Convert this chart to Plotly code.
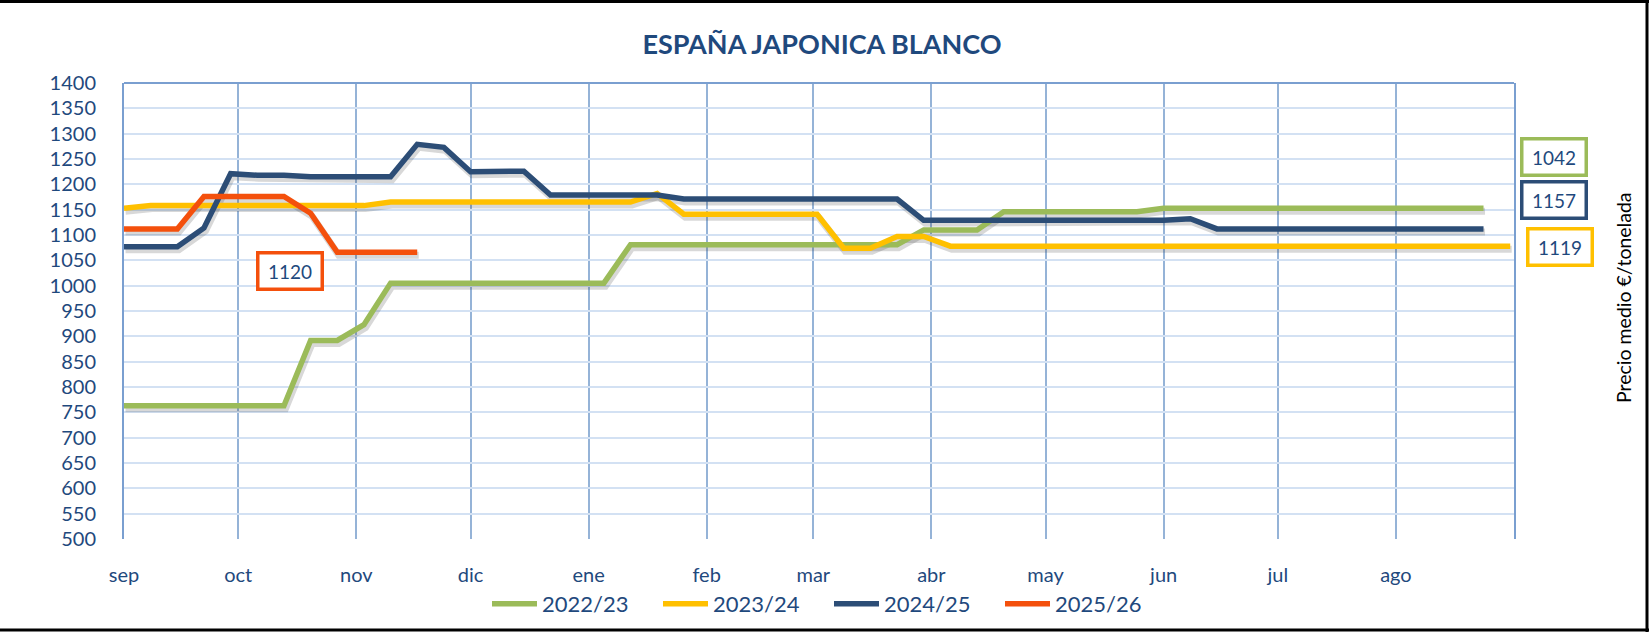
import plotly.graph_objects as go
import pandas as pd

# ---------------- data ----------------
months = ["sep", "oct", "nov", "dic", "ene", "feb", "mar", "abr", "may", "jun", "jul", "ago"]
month_starts = pd.date_range("2022-09-01", periods=12, freq="MS")

s_2022_23 = [763, 763, 763, 763, 763, 763, 763, 892, 892, 923, 1005, 1005, 1005, 1005,
             1005, 1005, 1005, 1005, 1005, 1081, 1081, 1081, 1081, 1081, 1081, 1081,
             1081, 1081, 1081, 1081, 1110, 1110, 1110, 1146, 1146, 1146, 1146, 1146,
             1146, 1153, 1153, 1153, 1153, 1153, 1153, 1153, 1153, 1153, 1153, 1153,
             1153, 1153]
s_2023_24 = [1153, 1158, 1158, 1158, 1158, 1158, 1158, 1158, 1158, 1158, 1165, 1165,
             1165, 1165, 1165, 1165, 1165, 1165, 1165, 1165, 1182, 1141, 1141, 1141,
             1141, 1141, 1141, 1074, 1074, 1097, 1097, 1078, 1078, 1078, 1078, 1078,
             1078, 1078, 1078, 1078, 1078, 1078, 1078, 1078, 1078, 1078, 1078, 1078,
             1078, 1078, 1078, 1078, 1078]
s_2024_25 = [1077, 1077, 1077, 1114, 1221, 1218, 1218, 1215, 1215, 1215, 1215, 1279,
             1273, 1225, 1226, 1226, 1179, 1179, 1179, 1179, 1179, 1171, 1171, 1171,
             1171, 1171, 1171, 1171, 1171, 1171, 1129, 1129, 1129, 1129, 1129, 1129,
             1129, 1129, 1129, 1129, 1132, 1112, 1112, 1112, 1112, 1112, 1112, 1112,
             1112, 1112, 1112, 1112]
s_2025_26 = [1112, 1112, 1112, 1176, 1176, 1176, 1176, 1143, 1066, 1066, 1066, 1066]

series_names = ["2022/23", "2023/24", "2024/25", "2025/26"]
series_vals = [s_2022_23, s_2023_24, s_2024_25, s_2025_26]
series_colors = ["#9BBB59", "#FFC000", "#2C4D76", "#F4500C"]

box_labels = ["1042", "1157", "1119", "1120"]

week_dates = pd.date_range("2022-09-01", periods=60, freq="7D")

# ---------------- geometry ----------------
W, H = 1649, 632
L, R, T, B = 124, 1514, 83, 539
PW, PH = R - L, B - T


def xp(px):
    return (px - L) / PW


def yp(py):
    return (B - py) / PH


def xc(px):
    return px / W


def yc(py):
    return 1 - py / H


x_range = [pd.Timestamp("2022-09-01"), pd.Timestamp("2023-09-01")]
y_range = [500, 1400]
days_per_px = 365 / PW
units_per_px = (y_range[1] - y_range[0]) / PH

# shadow offsets (px)
sdx, sdy = 1.5, 3.0
x_range_sh = [x_range[0] - pd.Timedelta(days=sdx * days_per_px),
              x_range[1] - pd.Timedelta(days=sdx * days_per_px)]
y_range_sh = [y_range[0] + sdy * units_per_px, y_range[1] + sdy * units_per_px]

TXT = "#1F497D"
FONT = "Lato, 'Open Sans', sans-serif"

fig = go.Figure()

# shadows (base axes, shifted)
for vals in series_vals:
    fig.add_trace(go.Scatter(
        x=week_dates[:len(vals)], y=vals, mode="lines",
        line=dict(color="rgba(60,60,60,0.2)", width=7, shape="linear"),
        showlegend=False, hoverinfo="skip", xaxis="x", yaxis="y"))

# main lines
for name, vals, col in zip(series_names, series_vals, series_colors):
    fig.add_trace(go.Scatter(
        x=week_dates[:len(vals)], y=vals, mode="lines", name=name,
        line=dict(color=col, width=5.5),
        xaxis="x2", yaxis="y2"))

tickvals = list(month_starts)

fig.update_layout(
    width=W, height=H, autosize=False,
    margin=dict(l=L, r=W - R, t=T, b=H - B, pad=0, autoexpand=False),
    paper_bgcolor="white", plot_bgcolor="white",
    font=dict(family=FONT, color=TXT, size=20),
    title=dict(text="<b>ESPAÑA JAPONICA BLANCO</b>", x=822 / W, xanchor="center",
               y=1 - 45 / H, yanchor="middle", yref="container",
               font=dict(family=FONT, size=27, color=TXT)),
    xaxis=dict(type="date", range=x_range_sh, visible=False, showgrid=False,
               fixedrange=True),
    yaxis=dict(range=y_range_sh, visible=False, showgrid=False, fixedrange=True),
    xaxis2=dict(type="date", range=x_range, overlaying="x", side="bottom",
                tickmode="array", tickvals=tickvals, ticktext=months,
                showgrid=True, gridcolor="#95B3D7", gridwidth=2,
                showline=False, zeroline=False, ticks="",
                ticklabelstandoff=22, automargin=False,
                tickfont=dict(family=FONT, size=20, color=TXT)),
    yaxis2=dict(range=y_range, overlaying="y", side="left", dtick=50, tick0=500,
                showgrid=True, gridcolor="#D3E1F3", gridwidth=2,
                showline=True, mirror=True, linecolor="#7A9FD0", linewidth=2,
                zeroline=False, ticks="", ticklabelstandoff=22, automargin=False,
                tickfont=dict(family=FONT, size=20, color=TXT)),
    legend=dict(orientation="h", x=xc(487), xref="container", xanchor="left",
                y=yc(604), yref="container", yanchor="middle",
                font=dict(family=FONT, size=22, color=TXT),
                entrywidth=111, entrywidthmode="pixels", itemwidth=45,
                bgcolor="rgba(0,0,0,0)", tracegroupgap=0),
    showlegend=True,
)

# top border of plot area
fig.add_shape(type="line", xref="paper", yref="paper", x0=0, x1=1, y0=1, y1=1,
              line=dict(color="#7A9FD0", width=2))

# outer frame (top, right, bottom)
fig.add_shape(type="line", xref="paper", yref="paper", x0=xp(0), x1=xp(W),
              y0=yp(1.5), y1=yp(1.5), line=dict(color="black", width=3))
fig.add_shape(type="line", xref="paper", yref="paper", x0=xp(W - 2), x1=xp(W - 2),
              y0=yp(0), y1=yp(H), line=dict(color="black", width=3))
fig.add_shape(type="line", xref="paper", yref="paper", x0=xp(0), x1=xp(W),
              y0=yp(H - 2), y1=yp(H - 2), line=dict(color="black", width=3))

# value boxes
box_pos = [(1554.5, 157), (1554, 199.5), (1559.5, 246.7), (290.3, 271.2)]
box_cols = [series_colors[0], series_colors[2], series_colors[1], series_colors[3]]
for lab, (bx, by), bc in zip(box_labels, box_pos, box_cols):
    fig.add_annotation(text=lab, xref="paper", yref="paper", x=xp(bx), y=yp(by),
                       xanchor="center", yanchor="middle", showarrow=False,
                       width=61, height=33, borderpad=0, borderwidth=3.5,
                       bordercolor=bc, bgcolor="white",
                       font=dict(family=FONT, size=19, color=TXT))

# right axis title
fig.add_annotation(text="Precio medio €/tonelada", xref="paper", yref="paper",
                   x=xp(1623), y=yp(298), textangle=-90, showarrow=False,
                   xanchor="center", yanchor="middle",
                   font=dict(family=FONT, size=19.5, color="black"))

fig.write_html("out.html", config={"displayModeBar": False},
               post_script="document.body.style.margin='0';document.body.style.overflow='hidden';")
